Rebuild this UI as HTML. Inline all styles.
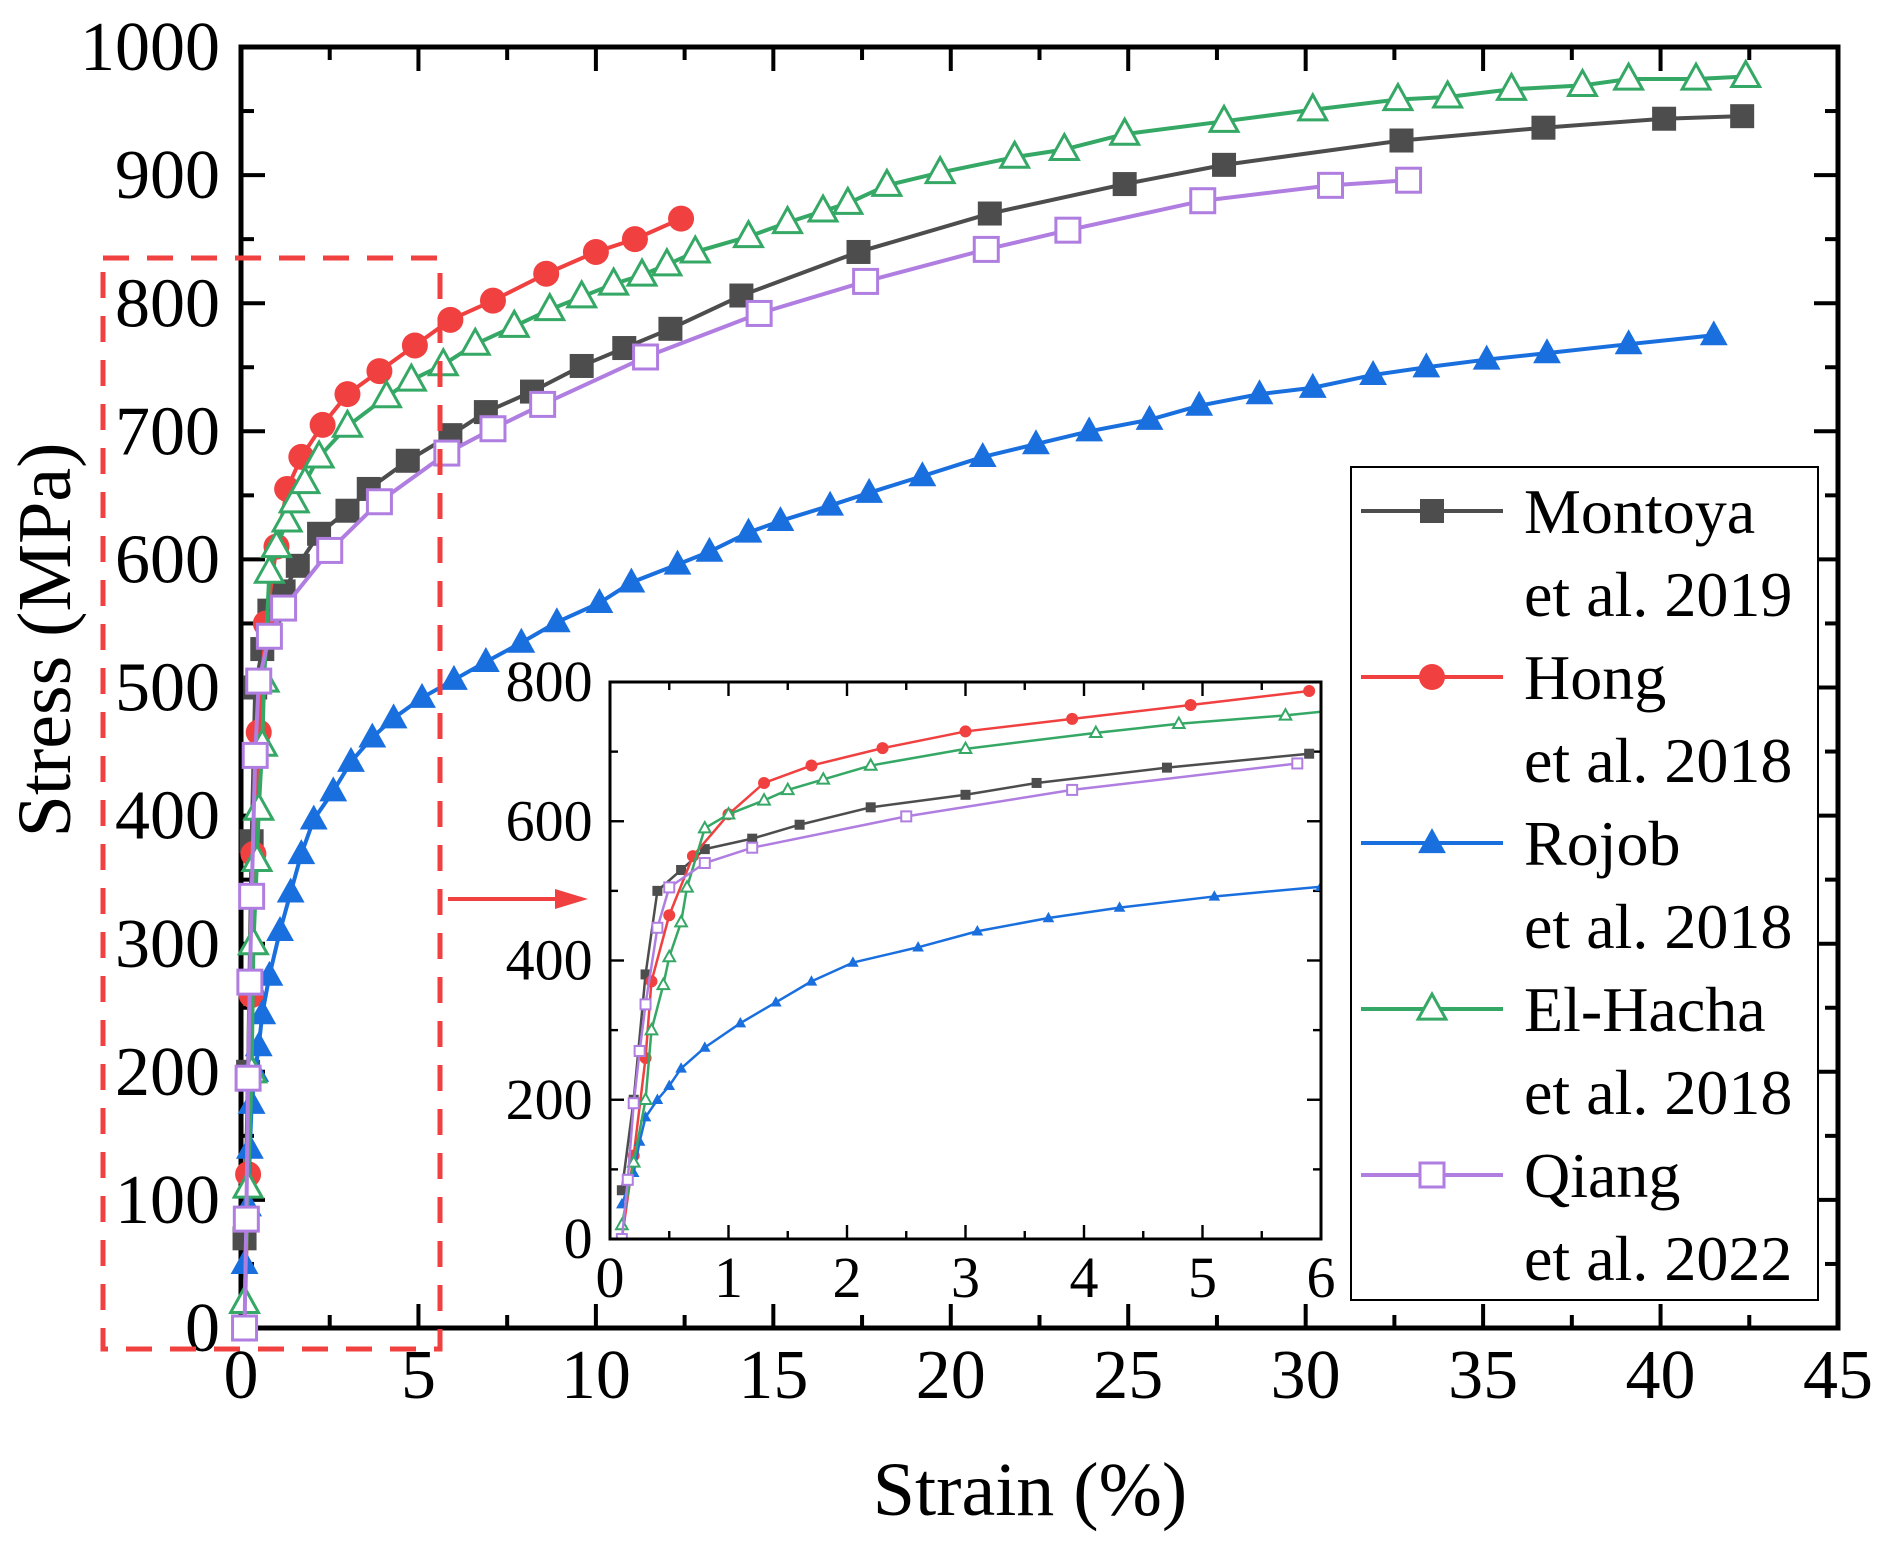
<!DOCTYPE html>
<html><head><meta charset="utf-8">
<style>
html,body{margin:0;padding:0;background:#fff;}
svg, svg text{font-family:"Liberation Serif","Times New Roman",serif;}
</style></head>
<body>
<svg id="chart" width="1891" height="1542" viewBox="0 0 1891 1542" xmlns="http://www.w3.org/2000/svg" font-family="Liberation Serif, serif">
<g id="main"></g>
<g id="inset"></g>
<g id="legend"></g>
</svg>
<script>
const seriesNames = ["Montoya","Hong","Rojob","El-Hacha","Qiang"];
const seriesYears = ["et al. 2019","et al. 2018","et al. 2018","et al. 2018","et al. 2022"];
const montoyaX = [0.1,0.2,0.3,0.4,0.6,0.8,1.2,1.6,2.2,3,3.6,4.7,5.9,6.9,8.2,9.6,10.8,12.1,14.1,17.4,21.1,24.9,27.7,32.7,36.7,40.1,42.3];
const montoyaY = [70,200,380,500,530,560,575,595,620,638,655,677,697,715,731,751,765,780,806,840,870,893,908,927,937,944,946];
const hongX = [0.1,0.2,0.3,0.35,0.5,0.7,1,1.3,1.7,2.3,3,3.9,4.9,5.9,7.1,8.6,10,11.1,12.4];
const hongY = [0,120,260,370,465,550,610,655,680,705,729,747,767,787,802,823,840,850,866];
const rojobX = [0.1,0.2,0.25,0.3,0.4,0.5,0.6,0.8,1.1,1.4,1.7,2.05,2.6,3.1,3.7,4.3,5.1,6,6.9,7.9,8.9,10.1,11,12.3,13.2,14.3,15.2,16.6,17.7,19.2,20.9,22.4,23.9,25.6,27,28.7,30.2,31.9,33.4,35.1,36.8,39.1,41.5];
const rojobY = [50,95,140,175,200,220,245,275,310,340,370,397,419,442,461,476,492,506,520,535,551,566,582,596,606,621,630,642,652,665,680,690,700,709,720,729,734,744,750,756,761,768,775];
const elhachaX = [0.1,0.2,0.3,0.35,0.45,0.5,0.6,0.65,0.8,1,1.3,1.5,1.8,2.2,3,4.1,4.8,5.7,6.6,7.7,8.7,9.6,10.5,11.3,12,12.8,14.3,15.4,16.4,17.1,18.2,19.7,21.8,23.2,24.9,27.7,30.2,32.6,34,35.8,37.8,39.1,41,42.4];
const elhachaY = [20,110,200,300,365,405,455,505,590,610,630,645,660,680,704,727,740,752,768,782,795,805,815,822,830,840,852,863,872,878,892,902,914,920,932,942,951,959,961,967,970,975,975,977];
const qiangX = [0.1,0.15,0.2,0.25,0.3,0.4,0.5,0.8,1.2,2.5,3.9,5.8,7.1,8.5,11.4,14.6,17.6,21,23.3,27.1,30.7,32.9];
const qiangY = [0,85,195,270,337,447,505,540,562,607,645,683,702,721,758,792,817,842,857,880,892,896];
const mainXTicks = ["0","5","10","15","20","25","30","35","40","45"];
const mainYTicks = ["0","100","200","300","400","500","600","700","800","900","1000"];
const insetXTicks = ["0","1","2","3","4","5","6"];
const insetYTicks = ["0","200","400","600","800"];

const NS="http://www.w3.org/2000/svg";
const FONT="Liberation Serif, Times New Roman, serif";
const colors=["#4d4d4d","#f04040","#1a6fdf","#35a865","#b07ee0"];
const markers=["square","circle","tri","otri","osquare"];
const allX=[montoyaX,hongX,rojobX,elhachaX,qiangX];
const allY=[montoyaY,hongY,rojobY,elhachaY,qiangY];
function mk(tag,attrs,parent){const e=document.createElementNS(NS,tag);for(const k in attrs)e.setAttribute(k,attrs[k]);if(tag==="text")e.setAttribute("font-family",FONT);parent.appendChild(e);return e;}

function marker(g,type,cx,cy,s,color,sw){
  let e;
  if(type==="square"||type==="osquare"){
    e=mk("rect",{x:cx-s/2,y:cy-s/2,width:s,height:s,fill:type==="square"?color:"#fff",stroke:color,"stroke-width":type==="square"?0:sw},g);
  }else if(type==="circle"){
    e=mk("circle",{cx:cx,cy:cy,r:s/2+1,fill:color},g);
  }else{
    const h=s*1.0;
    e=mk("polygon",{points:`${cx},${cy-h*0.62} ${cx-s*0.58},${cy+h*0.42} ${cx+s*0.58},${cy+h*0.42}`,fill:type==="tri"?color:"#fff",stroke:color,"stroke-width":type==="tri"?0:sw},g);
  }
  return e;
}

function drawAxes(g,L,R,T,B,xmax,ymax,xt,yt,xMinor,yMinor,fs,majLen,minLen,lw,namePrefix){
  const sx=v=>L+(R-L)*v/xmax, sy=v=>B-(B-T)*v/ymax;
  const frame=mk("rect",{x:L,y:T,width:R-L,height:B-T,fill:"#fff",stroke:"#000","stroke-width":lw},g);
  
  
  const step=xmax/(xt.length-1);
  for(let v=0;v<=xmax+1e-9;v+=xMinor){
    const major=Math.abs(v/step-Math.round(v/step))<1e-6;
    const len=major?majLen:minLen;
    mk("line",{x1:sx(v),x2:sx(v),y1:B,y2:B-len,stroke:"#000","stroke-width":lw*0.8},g);
    mk("line",{x1:sx(v),x2:sx(v),y1:T,y2:T+len,stroke:"#000","stroke-width":lw*0.8},g);
  }
  const ystep=ymax/(yt.length-1);
  for(let v=0;v<=ymax+1e-9;v+=yMinor){
    const major=Math.abs(v/ystep-Math.round(v/ystep))<1e-6;
    const len=major?majLen:minLen;
    mk("line",{x1:L,x2:L+len,y1:sy(v),y2:sy(v),stroke:"#000","stroke-width":lw*0.8},g);
    mk("line",{x1:R,x2:R-len,y1:sy(v),y2:sy(v),stroke:"#000","stroke-width":lw*0.8},g);
  }
  xt.forEach((t,i)=>{const e=mk("text",{x:sx(i*step),y:B+fs*1.0,"font-size":fs,"text-anchor":"middle"},g);e.textContent=t;
    
    });
  yt.forEach((t,i)=>{const e=mk("text",{x:L-fs*0.3,y:sy(i*ystep)+fs*0.33,"font-size":fs,"text-anchor":"end"},g);e.textContent=t;
    
    });
  return [sx,sy];
}

function drawSeries(g,sx,sy,xmax,ms,lw,sw,namePrefix,clip){
  allX.forEach((xs,si)=>{
    const sg=mk("g",clip?{"clip-path":clip}:{},g);
    
    
    const pts=[];
    xs.forEach((x,i)=>{if(x<=xmax*1.15)pts.push([sx(x),sy(allY[si][i])]);});
    mk("polyline",{points:pts.map(p=>p.join(",")).join(" "),fill:"none",stroke:colors[si],"stroke-width":lw,"stroke-linejoin":"round"},sg);
    xs.forEach((x,i)=>{if(x<=xmax*1.02){const m=marker(sg,markers[si],sx(x),sy(allY[si][i]),ms,colors[si],sw);
      
      }});
  });
}

// main
const gm=document.getElementById("main");
const [mx,my]=drawAxes(gm,241,1838,47,1328,45,1000,mainXTicks,mainYTicks,2.5,50,70,24,13,5,"main-");
drawSeries(gm,mx,my,45,24,4,3,"main-",null);
const xt=mk("text",{x:1030,y:1515,"font-size":76,"text-anchor":"middle"},gm);xt.textContent="Strain (%)";


const yt=mk("text",{x:0,y:0,"font-size":76,"text-anchor":"middle",transform:"translate(70,640) rotate(-90)"},gm);yt.textContent="Stress (MPa)";


// dashed zoom rect
const dr=mk("rect",{x:103,y:258,width:337,height:1091,fill:"none",stroke:"#f04040","stroke-width":5,"stroke-dasharray":"26,18"},gm);


const ar=mk("g",{},gm);


mk("line",{x1:448,y1:899,x2:560,y2:899,stroke:"#f04040","stroke-width":4},ar);
mk("polygon",{points:"588,899 555,889 555,909",fill:"#f04040"},ar);

// inset
const gi=document.getElementById("inset");
const defs=mk("defs",{},gi);
const cp=mk("clipPath",{id:"insetClip"},defs);
mk("rect",{x:610,y:682,width:711,height:557},cp);
const [ix,iy]=drawAxes(gi,610,1321,682,1239,6,800,insetXTicks,insetYTicks,0.5,100,58,14,8,3,"inset-");
drawSeries(gi,ix,iy,6,10,2.5,2,"inset-","url(#insetClip)");
mk("rect",{x:610,y:682,width:711,height:557,fill:"none",stroke:"#000","stroke-width":3},gi);

// legend
const gl=document.getElementById("legend");
const lb=mk("rect",{x:1351,y:467,width:467,height:833,fill:"#fff",stroke:"#000","stroke-width":2},gl);


seriesNames.forEach((n,i)=>{
  const y=511+i*166;
  const eg=mk("g",{},gl);
  
  
  mk("line",{x1:1361,x2:1503,y1:y,y2:y,stroke:colors[i],"stroke-width":4},eg);
  marker(eg,markers[i],1432,y,24,colors[i],3);
  const t1=mk("text",{x:1524,y:y+22,"font-size":64},eg);t1.textContent=n;
  const t2=mk("text",{x:1524,y:y+105,"font-size":64},eg);t2.textContent=seriesYears[i];
});
</script>
</body></html>
